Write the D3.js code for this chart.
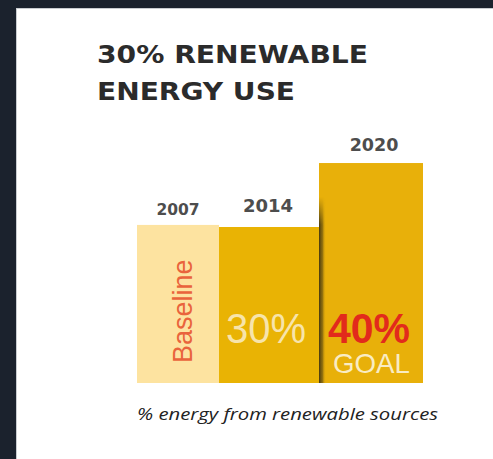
<!DOCTYPE html>
<html>
<head>
<meta charset="utf-8">
<script src="https://cdn.jsdelivr.net/npm/d3@7/dist/d3.min.js"></script>
<style>
  html, body { margin: 0; padding: 0; background: #1b222d; }
  svg { display: block; }
</style>
</head>
<body>
<svg id="chart" width="493" height="459"></svg>
<script>
// ---- data ----
const titleLines = ["30% RENEWABLE", "ENERGY USE"];
const categories = ["2007", "2014", "2020"];
const values = [30.4, 30, 42.3];          // bar heights, % energy from renewables (2007 = baseline)
const bigLabels = ["", "30%", "40%"];
const subLabels = ["", "", "GOAL"];
const sideLabel = "Baseline";
const caption = "% energy from renewable sources";

// ---- styles ----
const barColors = ["#fde3a0", "#e9b304", "#e8b00a"];
const yearSizes = [15.5, 18, 17.5];
const yearGap = [10, 15, 12];

const svg = d3.select("#chart");
const W = 493, H = 459;

// background + card
svg.append("rect").attr("width", W).attr("height", H).attr("fill", "#1b222d");
svg.append("rect").attr("x", 16.5).attr("y", 8.5).attr("width", W).attr("height", H)
  .attr("fill", "#ffffff").attr("stroke", "#c9ccd0").attr("stroke-width", 1);

const defs = svg.append("defs");
const sg = defs.append("linearGradient").attr("id", "shadowH").attr("x1", "0").attr("x2", "1").attr("y1", "0").attr("y2", "0");
sg.append("stop").attr("offset", "0").attr("stop-color", "#3e3210").attr("stop-opacity", 0.95);
sg.append("stop").attr("offset", "0.5").attr("stop-color", "#6a5410").attr("stop-opacity", 0.7);
sg.append("stop").attr("offset", "1").attr("stop-color", "#e8b00a").attr("stop-opacity", 0);
const mg = defs.append("linearGradient").attr("id", "fadeV").attr("x1", "0").attr("x2", "0").attr("y1", "0").attr("y2", "1");
mg.append("stop").attr("offset", "0").attr("stop-color", "#fff").attr("stop-opacity", 0);
mg.append("stop").attr("offset", "0.15").attr("stop-color", "#fff").attr("stop-opacity", 1);
mg.append("stop").attr("offset", "1").attr("stop-color", "#fff").attr("stop-opacity", 1);
defs.append("mask").attr("id", "fadeMask").attr("maskContentUnits", "objectBoundingBox")
  .append("rect").attr("width", 1).attr("height", 1).attr("fill", "url(#fadeV)");

// title
const title = svg.append("g");
title.selectAll("text").data(titleLines).join("text")
  .attr("x", 97).attr("y", (d, i) => 63 + i * 37)
  .attr("font-family", "DejaVu Sans").attr("font-weight", "bold")
  .attr("font-size", 24.5).attr("fill", "#2b2b2b")
  .attr("textLength", (d, i) => i === 0 ? 271 : 198).attr("lengthAdjust", "spacingAndGlyphs")
  .text(d => d);

// scales
const x = d3.scaleBand().domain(categories).range([117, 423]).padding(0);
const y = d3.scaleLinear().domain([0, 30]).range([383, 227]);
const inset = [20, 0, 0];

const bars = svg.append("g");
bars.selectAll("rect").data(categories).join("rect")
  .attr("x", (d, i) => x(d) + inset[i] - (i === 2 ? 2 : 0))
  .attr("y", (d, i) => y(values[i]))
  .attr("width", (d, i) => x.bandwidth() - inset[i] + (i === 2 ? 2 : 0))
  .attr("height", (d, i) => y(0) - y(values[i]))
  .attr("fill", (d, i) => barColors[i]);

// shadow on left edge of the tallest bar
svg.append("rect")
  .attr("x", x("2020") - 2).attr("y", y(values[1]) - 30)
  .attr("width", 7).attr("height", y(0) - y(values[1]) + 30)
  .attr("fill", "url(#shadowH)").attr("mask", "url(#fadeMask)");

// year labels
svg.append("g").selectAll("text").data(categories).join("text")
  .attr("x", (d, i) => x(d) + inset[i] / 2 + x.bandwidth() / 2 + (i === 1 ? -2 : i === 2 ? 2 : 0))
  .attr("y", (d, i) => y(values[i]) - yearGap[i])
  .attr("text-anchor", "middle")
  .attr("font-family", "DejaVu Sans").attr("font-weight", "bold")
  .attr("font-size", (d, i) => yearSizes[i]).attr("fill", "#4d4d4d")
  .text(d => d);

// rotated baseline label
svg.append("text")
  .attr("transform", `translate(${x("2007") + inset[0] + 55},363) rotate(-90)`)
  .attr("font-family", "Liberation Sans").attr("font-size", 27)
  .attr("fill", "#e9643c").text(sideLabel);

// big percentage labels
svg.append("text")
  .attr("x", x("2014") + 7).attr("y", 343)
  .attr("font-family", "Liberation Sans").attr("font-size", 42)
  .attr("textLength", 80).attr("lengthAdjust", "spacingAndGlyphs")
  .attr("fill", "#f7e4ab").text(bigLabels[1]);
svg.append("text")
  .attr("x", x("2020") + 7).attr("y", 343)
  .attr("font-family", "Liberation Sans").attr("font-weight", "bold").attr("font-size", 42)
  .attr("textLength", 82).attr("lengthAdjust", "spacingAndGlyphs")
  .attr("fill", "#e22a1c").text(bigLabels[2]);
svg.append("text")
  .attr("x", x("2020") + 12).attr("y", 373)
  .attr("font-family", "Liberation Sans").attr("font-size", 28)
  .attr("textLength", 77).attr("lengthAdjust", "spacingAndGlyphs")
  .attr("fill", "#f9ecc4").text(subLabels[2]);

// caption
svg.append("text")
  .attr("x", 137).attr("y", 420)
  .attr("font-family", "Open Sans").attr("font-style", "italic").attr("font-size", 17)
  .attr("textLength", 301).attr("lengthAdjust", "spacingAndGlyphs")
  .attr("fill", "#222222").text(caption);
</script>
</body>
</html>
